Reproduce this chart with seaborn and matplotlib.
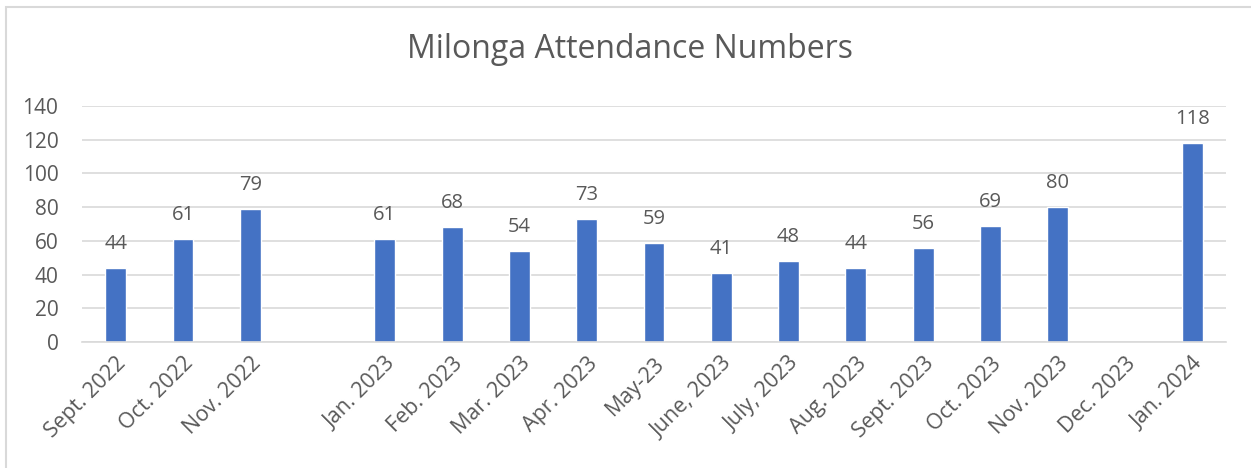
import numpy as np
import pandas as pd
import matplotlib
matplotlib.use('Agg')
import matplotlib.pyplot as plt
import seaborn as sns
from matplotlib.patches import Rectangle

# Chart data
months = ['Sept. 2022', 'Oct. 2022', 'Nov. 2022', '', 'Jan. 2023', 'Feb. 2023',
          'Mar. 2023', 'Apr. 2023', 'May-23', 'June, 2023', 'July, 2023',
          'Aug. 2023', 'Sept. 2023', 'Oct. 2023', 'Nov. 2023', 'Dec. 2023', 'Jan. 2024']
attendance = [44, 61, 79, np.nan, 61, 68, 54, 73, 59, 41, 48, 44, 56, 69, 80, np.nan, 118]
y_ticks = [0, 20, 40, 60, 80, 100, 120, 140]

title = 'Milonga Attendance Numbers'
bar_color = '#4472C4'
text_color = '#595959'
grid_color = '#D9D9D9'

df = pd.DataFrame({'month': months, 'attendance': attendance})

sns.set_style('white')
plt.rcParams['font.family'] = ['Open Sans', 'DejaVu Sans']

fig = plt.figure(figsize=(12.51, 4.68), dpi=100)
ax = fig.add_axes([82 / 1251, 1 - 342 / 468, (1226 - 82) / 1251, (342 - 106) / 468])

sns.barplot(data=df, x='month', y='attendance', order=months, color=bar_color,
            saturation=1, width=0.31, ax=ax)

ax.set_xlim(-0.5, len(months) - 0.5)
ax.set_ylim(0, 140)
ax.set_yticks(y_ticks)
ax.yaxis.grid(True, color=grid_color, linewidth=1.2)
ax.set_axisbelow(True)
for s in ['top', 'right', 'left']:
    ax.spines[s].set_visible(False)
ax.spines['bottom'].set_color(grid_color)
ax.spines['bottom'].set_linewidth(1.2)

ax.set_xlabel('')
ax.set_ylabel('')
ax.tick_params(axis='y', length=0, labelsize=15, colors=text_color, pad=17)
ax.tick_params(axis='x', length=0, labelsize=15.5, colors=text_color, pad=8)
ax.set_xticks(range(len(months)))
ax.set_xticklabels(months, rotation=45, ha='right', rotation_mode='anchor')

for bars in ax.containers:
    labels = ['' if np.isnan(v) else f'{v:.0f}' for v in bars.datavalues]
    ax.bar_label(bars, labels=labels, padding=10, fontsize=14.5, color=text_color)

fig.text(630 / 1251, 1 - 50 / 468, title, ha='center', va='center',
         fontsize=23, color=text_color)

# light frame around the chart (cut off on the right and bottom)
fig.patches.append(Rectangle((6 / 1251, -0.1), 1.2, 1 - 7 / 468 + 0.1,
                             transform=fig.transFigure, fill=False,
                             edgecolor=grid_color, linewidth=1.5))

plt.savefig('out.png', dpi=100)
